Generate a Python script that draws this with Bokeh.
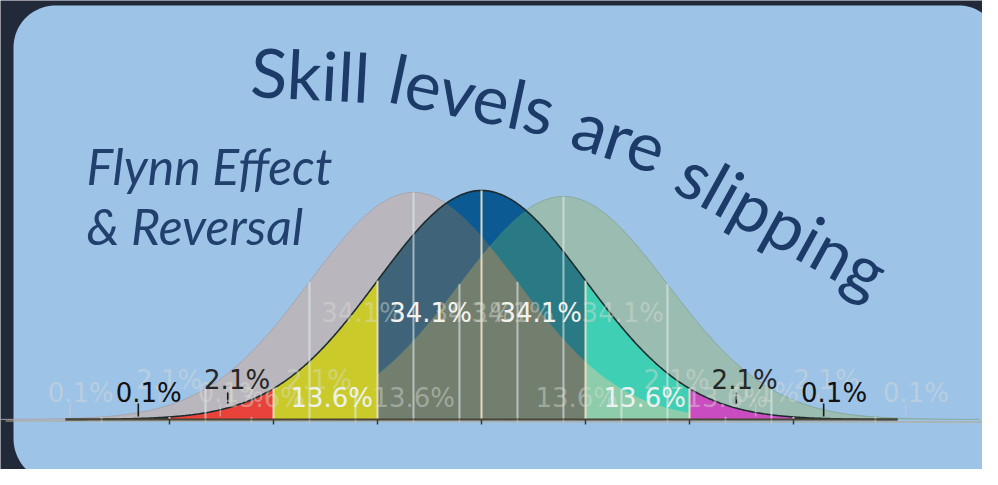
import numpy as np
from bokeh.plotting import figure
from bokeh.models import Range1d
from bokeh.embed import file_html
from bokeh.resources import INLINE
from bokeh.core.properties import value

# ---------------- data ----------------
curve_names = ["earlier generation", "peak generation", "current generation"]
curve_means = [-0.654, 0.0, 0.788]          # in SD units of the central curve
curve_heights = [0.3954, 0.3989, 0.3885]    # peak density of each curve
sd_edges = [-4, -3, -2, -1, 0, 1, 2, 3, 4]
band_share = ["0.1%", "2.1%", "13.6%", "34.1%", "34.1%", "13.6%", "2.1%", "0.1%"]
band_label_x = [-3.2, -2.35, -1.44, -0.49, 0.57, 1.57, 2.53, 3.39]
band_label_y = [0.047, 0.068, 0.038, 0.185, 0.185, 0.038, 0.068, 0.047]
pointer_x = [-3.3, -2.44, 2.45, 3.29]
title_words = ["Skill", "levels", "are", "slipping"]
subtitle_lines = ["Flynn Effect", "& Reversal"]

# ---------------- styles / layout ----------------
band_colors = ["#2a2f2f", "#e8423a", "#cacb2b", "#0b5a93",
               "#0b5a93", "#3fcfb4", "#c94cc0", "#2a2f2f"]
label_colors = ["#111111", "#262626", "#eef2ee", "#f2f2ee",
                "#f2f2ee", "#eef2ee", "#262626", "#111111"]
FRAME = "#222a3a"
PANEL = "#9dc3e6"
NAVY = "#1c3b68"

W, H = 982, 469
CX, SX = 481.0, 104.0            # reference pixel of central mean, px per SD
BY, SY = 419.0, 229.0 / 0.3989   # baseline pixel, px per density unit


def dx(px):
    return (px - CX) / SX


def dy(py):
    return (BY - py) / SY


def density(x, mean, h):
    return h * np.exp(-0.5 * (np.asarray(x) - mean) ** 2)


p = figure(width=W, height=H, output_backend="svg", toolbar_location=None,
           x_range=Range1d(dx(0), dx(W)), y_range=Range1d(dy(H), dy(0)),
           min_border=0, min_border_left=0, min_border_right=0,
           min_border_top=0, min_border_bottom=0)
p.axis.visible = False
p.grid.visible = False
p.outline_line_color = None
p.background_fill_color = FRAME
p.border_fill_color = FRAME


# rounded panel
def rounded_rect(x0, y0, x1, y1, rtl, rtr, rbr, rbl, n=30):
    xs, ys = [], []
    for (cx, cy, r, a0, a1) in [
        (x0 + rtl, y0 + rtl, rtl, np.pi, 1.5 * np.pi),
        (x1 - rtr, y0 + rtr, rtr, 1.5 * np.pi, 2 * np.pi),
        (x1 - rbr, y1 - rbr, rbr, 0, 0.5 * np.pi),
        (x0 + rbl, y1 - rbl, rbl, 0.5 * np.pi, np.pi),
    ]:
        t = np.linspace(a0, a1, n)
        xs += list(cx + r * np.cos(t))
        ys += list(cy + r * np.sin(t))
    return [dx(v) for v in xs], [dy(v) for v in ys]


px_, py_ = rounded_rect(13, 5, 997, 482, 42, 38, 34, 44)
p.patch(px_, py_, fill_color=PANEL, line_color=None)

# faint long baseline
p.line([dx(5), dx(988)], [dy(420.5), dy(421.5)], line_color="#b3a88e",
       line_alpha=0.7, line_width=1.5)


def area(xs, ys, color, alpha=1.0):
    xs = list(xs)
    ys = list(ys)
    p.patch([xs[0]] + xs + [xs[-1]], [0] + ys + [0], fill_color=color,
            fill_alpha=alpha, line_color=None)


g_m, c_m, n_m = curve_means
g_h, c_h, n_h = curve_heights

# outer (shifted) curves
xg = np.linspace(g_m - 4, g_m + 4, 500)
area(xg, density(xg, g_m, g_h), "#b9b7bd")
xn = np.linspace(n_m - 4, n_m + 4, 500)
area(xn, density(xn, n_m, n_h), "#9bbdb1")
p.line(xn, density(xn, n_m, n_h), line_color="#86a89c", line_width=1)
p.line(xg, density(xg, g_m, g_h), line_color="#a8a4ac", line_width=1)

# central curve bands
for i in range(len(sd_edges) - 1):
    xs = np.linspace(sd_edges[i], sd_edges[i + 1], 150)
    area(xs, density(xs, c_m, c_h), band_colors[i])

# overlaps inside the +-1 SD bands
xs = np.linspace(-1, 1, 400)
yc = density(xs, c_m, c_h)
yg = density(xs, g_m, g_h)
yn = density(xs, n_m, n_h)
area(xs, np.minimum(yg, yc), "#3f6479")
area(xs, np.minimum(yn, yc), "#2a7a86")
area(xs, np.minimum(yg, yn), "#727f6f")
xs2 = np.linspace(1, 2, 200)
area(xs2, np.minimum(density(xs2, g_m, g_h), density(xs2, c_m, c_h)), "#8dcdab")

# central outline
xc = np.linspace(-4, 4, 600)
p.line(xc, density(xc, c_m, c_h), line_color="#1d2b2d", line_width=1.6)

# vertical SD lines
for m, h, col, al in [(g_m, g_h, "#e6ecf0", 0.6), (n_m, n_h, "#e2eeee", 0.6),
                      (c_m, c_h, "#efe4c8", 0.9)]:
    ks = np.array(sd_edges[1:-1], dtype=float)
    x = m + ks
    p.segment(x0=x, y0=np.zeros_like(x), x1=x, y1=density(x, m, h),
              line_color=col, line_alpha=al, line_width=2)

# central axis and ticks
p.line([-4, 4], [0, 0], line_color="#4a4535", line_width=2.2)
for m, col, al in [(g_m, "#c8c8b8", 0.6), (n_m, "#c8c8b8", 0.6), (c_m, "#3a3a30", 1.0)]:
    x = m + np.array(sd_edges[1:-1], dtype=float)
    p.segment(x0=x, y0=np.full(len(x), dy(419)), x1=x, y1=np.full(len(x), dy(424)),
              line_color=col, line_alpha=al, line_width=1.5)

# pointer lines for small shares
for m, col, al in [(g_m, "#d0d0d0", 0.5), (n_m, "#d0d0d0", 0.5), (c_m, "#1a1a1a", 1.0)]:
    for px in pointer_x:
        top = dy(403) if abs(px) > 3 else dy(392)
        bot = dy(416) if abs(px) > 3 else dy(403)
        p.segment(x0=[m + px], y0=[bot], x1=[m + px], y1=[top],
                  line_color=col, line_alpha=al, line_width=1.6)

LABEL_FS = "26px"
# faint labels of shifted curves
for m in (g_m, n_m):
    p.text(x=[m + v for v in band_label_x], y=band_label_y, text=band_share,
           text_font=value("DejaVu Sans"), text_font_size=LABEL_FS,
           text_color="#dcdcd6", text_alpha=0.45,
           text_align="center", text_baseline="middle")

# central labels
p.text(x=band_label_x, y=band_label_y, text=band_share,
       text_font=value("DejaVu Sans"), text_font_size=LABEL_FS,
       text_color=label_colors, text_align="center", text_baseline="middle")


def baseline_anchor(px, py, ang_deg, fs):
    # compensate for the renderer's baseline offset (~0.4 em below anchor)
    a = np.radians(ang_deg)
    k = 0.4 * fs
    return dx(px + k * np.sin(a)), dy(py - k * np.cos(a))


# title along an arc
TITLE_FS = 68
title_anchor_px = [(249, 97), (385, 102), (567, 146), (670, 190)]
title_angles = [3, 12, 18, 29]   # clockwise, degrees
tx, ty = [], []
for (ax, ay), ang in zip(title_anchor_px, title_angles):
    u, v = baseline_anchor(ax, ay, ang, TITLE_FS)
    tx.append(u)
    ty.append(v)
p.text(x=tx, y=ty, text=title_words, angle=[-a for a in title_angles], angle_units="deg",
       text_font=value("Lato"), text_font_size=f"{TITLE_FS}px", text_color=NAVY,
       text_align="left", text_baseline="alphabetic")

# subtitle
SUB_FS = 50
sx, sy = [], []
for py in (185, 245):
    u, v = baseline_anchor(86, py, 0, SUB_FS)
    sx.append(u)
    sy.append(v)
p.text(x=sx, y=sy, text=subtitle_lines,
       text_font=value("Lato"), text_font_style="italic", text_font_size=f"{SUB_FS}px",
       text_color="#21406e", text_align="left", text_baseline="alphabetic")

open("out.html", "w").write(file_html(p, INLINE))
